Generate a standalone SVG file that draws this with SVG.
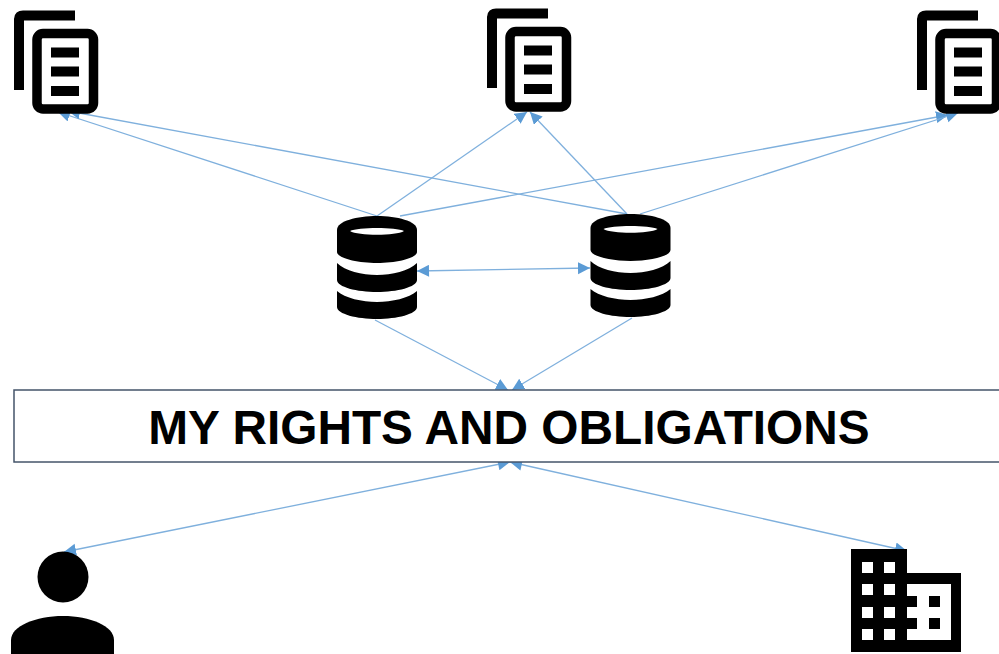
<svg xmlns="http://www.w3.org/2000/svg" width="999" height="654" viewBox="0 0 999 654">
<style>
.c{fill:none;stroke:#7fb0dd;stroke-width:1.300;marker-end:url(#a)}
.b{marker-start:url(#s)}
.k{fill:#000}
.w{fill:#fff}
</style>
<defs>
<marker id="a" markerUnits="userSpaceOnUse" markerWidth="14" markerHeight="14" refX="12" refY="6" orient="auto"><path d="M0 0L12 6L0 12Z" fill="#5b9bd5"/></marker>
<marker id="s" markerUnits="userSpaceOnUse" markerWidth="14" markerHeight="14" refX="0" refY="6" orient="auto"><path d="M12 0L0 6L12 12Z" fill="#5b9bd5"/></marker>
<g id="doc">
<path d="M19 90V19Q19 15.500 23 15.500H75" fill="none" stroke="#000" stroke-width="10"/>
<rect x="37" y="33.500" width="56.500" height="75.500" rx="6" fill="#fff" stroke="#000" stroke-width="9.500"/>
<rect class="k" x="51" y="47.500" width="28" height="10"/>
<rect class="k" x="51" y="66.500" width="28" height="10"/>
<rect class="k" x="51" y="86" width="28" height="10"/>
</g>
<g id="dbi">
<path class="k" d="M337 230C337 221 357 216 377 216C397 216 417 221 417 230V252C417 258 397 263 377 263C357 263 337 258 337 252Z"/>
<path class="w" d="M350 231C358 227 396 227 404 231C396 236 358 236 350 231Z"/>
<path class="k" d="M337 263C345 271 362 275 377 275C392 275 409 271 417 263V280C417 287 397 292 377 292C357 292 337 287 337 280Z"/>
<path class="k" d="M337 291C345 298 362 302 377 302C392 302 409 298 417 291V307C417 314 397 319 377 319C357 319 337 314 337 307Z"/>
</g>
</defs>
<g id="connectors">
<path class="c" d="M377 216L58 112"/>
<path class="c" d="M627 214L68 111"/>
<path class="c" d="M377 216L527 112"/>
<path class="c" d="M627 214L530 112"/>
<path class="c" d="M400 216L948 115"/>
<path class="c" d="M640 214L958 113"/>
<path class="c b" d="M417 271L590 268"/>
<path class="c" d="M375 320L508 390"/>
<path class="c" d="M632 318L512 390"/>
<path class="c b" d="M510 462L64 552"/>
<path class="c b" d="M510 462L907 551"/>
</g>
<g id="doc-left"><use href="#doc"/></g>
<g id="doc-middle"><use href="#doc" x="473" y="-2"/></g>
<g id="doc-right"><use href="#doc" x="903" y="0"/></g>
<g id="db-left"><use href="#dbi"/></g>
<g id="db-right"><use href="#dbi" x="253.500" y="-2"/></g>
<g id="rights">
<rect x="14" y="390" width="990" height="72" fill="#fff" stroke="#44546a" stroke-width="1.500"/>
<text x="509" y="444" text-anchor="middle" font-family="Liberation Sans, Arial, sans-serif" font-weight="700" font-size="47.800">MY RIGHTS AND OBLIGATIONS</text>
</g>
<g id="person">
<circle class="k" cx="63" cy="577" r="25.500"/>
<path class="k" d="M11 654V640C11 626 36 616 63 616C90 616 114 626 114 640V654Z"/>
</g>
<g id="building">
<path class="k" d="M851 549H907V573H961V652H851Z"/>
<path class="w" d="M907 584H951V640H907V629H917V618H907V607H917V596H907Z"/>
<rect class="k" x="929" y="596" width="11" height="11"/>
<rect class="k" x="929" y="618" width="11" height="11"/>
<g class="w">
<rect x="862" y="562" width="11" height="11"/><rect x="884" y="562" width="11" height="11"/>
<rect x="862" y="584" width="11" height="11"/><rect x="884" y="584" width="11" height="11"/>
<rect x="862" y="607" width="11" height="11"/><rect x="884" y="607" width="11" height="11"/>
<rect x="862" y="629" width="11" height="11"/><rect x="884" y="629" width="11" height="11"/>
</g>
</g>
</svg>
